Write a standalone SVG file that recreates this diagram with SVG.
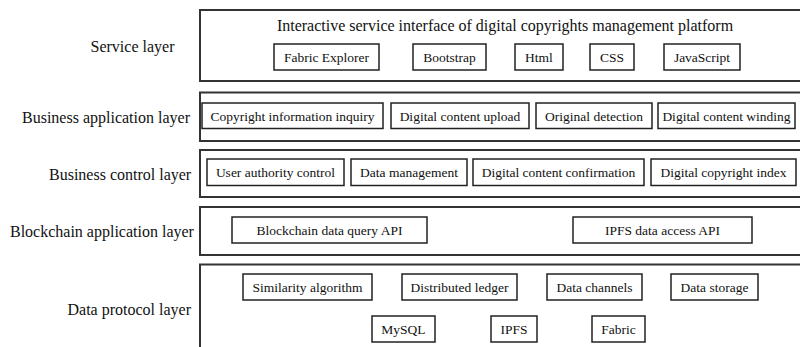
<svg xmlns="http://www.w3.org/2000/svg" width="800" height="347" viewBox="0 0 800 347">
<style>
text{font-family:"Liberation Serif","Times New Roman",serif;fill:#111}
.lbl{font-size:16px}
.ttl{font-size:16px;text-anchor:middle}
.t{font-size:13.5px;text-anchor:middle}
.layer{fill:#fff;stroke:#333;stroke-width:2}
.box{fill:#fff;stroke:#222;stroke-width:1.5}
</style>
<rect width="800" height="347" fill="#fff"/>
<g id="layers">
<g id="service-layer">
<text class="lbl" x="90.5" y="51.5">Service layer</text>
<rect class="layer" x="200" y="10" width="620" height="71"/>
<text class="ttl" x="505" y="30.5">Interactive service interface of digital copyrights management platform</text>
</g>
<g id="business-application-layer">
<text class="lbl" x="22" y="123">Business application layer</text>
<rect class="layer" x="200" y="92.5" width="620" height="48.5"/>
</g>
<g id="business-control-layer">
<text class="lbl" x="49" y="179.5">Business control layer</text>
<rect class="layer" x="200" y="150" width="620" height="47"/>
</g>
<g id="blockchain-application-layer">
<text class="lbl" x="10" y="236.5">Blockchain application layer</text>
<rect class="layer" x="200" y="207" width="620" height="48"/>
</g>
<g id="data-protocol-layer">
<text class="lbl" x="67.5" y="315">Data protocol layer</text>
<rect class="layer" x="200" y="264.5" width="620" height="100"/>
</g>
</g>
<g id="nodes">
<g id="fabric-explorer"><rect class="box" x="274" y="44" width="105" height="26"/><text class="t" x="326.5" y="61.5">Fabric Explorer</text></g>
<g id="bootstrap"><rect class="box" x="413" y="44" width="73" height="26"/><text class="t" x="449.5" y="61.5">Bootstrap</text></g>
<g id="html"><rect class="box" x="515" y="44" width="48" height="26"/><text class="t" x="539" y="61.5">Html</text></g>
<g id="css"><rect class="box" x="590" y="44" width="44" height="26"/><text class="t" x="612" y="61.5">CSS</text></g>
<g id="javascript"><rect class="box" x="664" y="44" width="76" height="26"/><text class="t" x="702" y="61.5">JavaScript</text></g>

<g id="copyright-information-inquiry"><rect class="box" x="202" y="103" width="181" height="25.5"/><text class="t" x="292.5" y="120.5">Copyright information inquiry</text></g>
<g id="digital-content-upload"><rect class="box" x="391" y="103" width="138" height="25.5"/><text class="t" x="460" y="120.5">Digital content upload</text></g>
<g id="original-detection"><rect class="box" x="536" y="103" width="116" height="25.5"/><text class="t" x="594" y="120.5">Original detection</text></g>
<g id="digital-content-winding"><rect class="box" x="658" y="103" width="137" height="25.5"/><text class="t" x="726.5" y="120.5">Digital content winding</text></g>

<g id="user-authority-control"><rect class="box" x="207" y="159" width="137" height="26.5"/><text class="t" x="275.5" y="177">User authority control</text></g>
<g id="data-management"><rect class="box" x="351" y="159" width="116" height="26.5"/><text class="t" x="409" y="177">Data management</text></g>
<g id="digital-content-confirmation"><rect class="box" x="473" y="159" width="171" height="26.5"/><text class="t" x="558.5" y="177">Digital content confirmation</text></g>
<g id="digital-copyright-index"><rect class="box" x="651" y="159" width="145" height="26.5"/><text class="t" x="723.5" y="177">Digital copyright index</text></g>

<g id="blockchain-data-query-api"><rect class="box" x="232" y="217" width="195" height="26"/><text class="t" x="329.5" y="234.5">Blockchain data query API</text></g>
<g id="ipfs-data-access-api"><rect class="box" x="573" y="217" width="179" height="26"/><text class="t" x="662.5" y="234.5">IPFS data access API</text></g>

<g id="similarity-algorithm"><rect class="box" x="243" y="274" width="129" height="26"/><text class="t" x="307.5" y="291.5">Similarity algorithm</text></g>
<g id="distributed-ledger"><rect class="box" x="402" y="274" width="115" height="26"/><text class="t" x="459.5" y="291.5">Distributed ledger</text></g>
<g id="data-channels"><rect class="box" x="547" y="274" width="95" height="26"/><text class="t" x="594.5" y="291.5">Data channels</text></g>
<g id="data-storage"><rect class="box" x="671" y="274" width="87" height="26"/><text class="t" x="714.5" y="291.5">Data storage</text></g>

<g id="mysql"><rect class="box" x="372" y="316" width="63" height="26"/><text class="t" x="403.5" y="333.5">MySQL</text></g>
<g id="ipfs"><rect class="box" x="491" y="316" width="46" height="26"/><text class="t" x="514" y="333.5">IPFS</text></g>
<g id="fabric"><rect class="box" x="592" y="316" width="53" height="26"/><text class="t" x="618.5" y="333.5">Fabric</text></g>
</g>
<g id="connectors"/>
</svg>
